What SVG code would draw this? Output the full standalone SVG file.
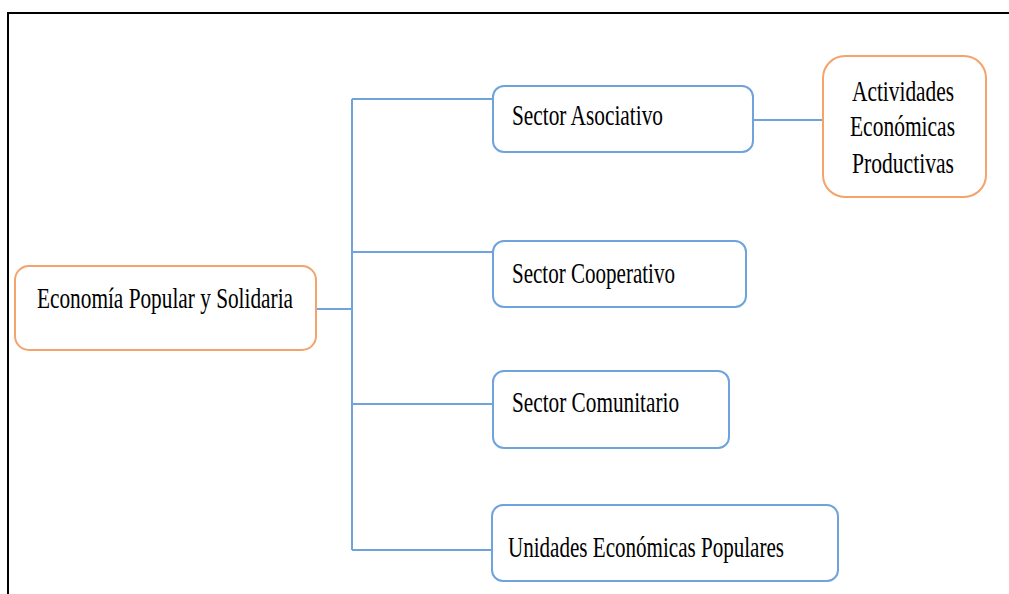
<svg xmlns="http://www.w3.org/2000/svg" width="1009" height="594" viewBox="0 0 1009 594">
<style>
.frame{stroke:#000;stroke-width:2;fill:none}
.blue{fill:#fff;stroke:#6FA3DC;stroke-width:2}
.orange{fill:#fff;stroke:#F4A36B;stroke-width:2}
.conn{stroke:#6FA3DC;stroke-width:2;fill:none}
.t{font-family:"Liberation Serif","Times New Roman",serif;font-size:30px;fill:#000}
</style>
<rect width="1009" height="594" fill="#fff"/>
<path class="frame" d="M8 594 V13 H1009"/>
<g id="connectors">
<path class="conn" d="M316 309 H352"/>
<path class="conn" d="M352 99 V550"/>
<path class="conn" d="M352 99 H493"/>
<path class="conn" d="M352 252 H493"/>
<path class="conn" d="M352 404 H493"/>
<path class="conn" d="M352 550 H492"/>
<path class="conn" d="M753 120 H823"/>
</g>
<g id="economia">
<rect class="orange" x="15" y="266" width="301" height="84" rx="14"/>
<text class="t" x="37" y="308" textLength="256" lengthAdjust="spacingAndGlyphs">Economía Popular y Solidaria</text>
</g>
<g id="asociativo">
<rect class="blue" x="493" y="86" width="260" height="66" rx="11"/>
<text class="t" x="512" y="125" textLength="151" lengthAdjust="spacingAndGlyphs">Sector Asociativo</text>
</g>
<g id="cooperativo">
<rect class="blue" x="493" y="241" width="253" height="66" rx="11"/>
<text class="t" x="512" y="283" textLength="163" lengthAdjust="spacingAndGlyphs">Sector Cooperativo</text>
</g>
<g id="comunitario">
<rect class="blue" x="493" y="371" width="236" height="77" rx="11"/>
<text class="t" x="512" y="412" textLength="167" lengthAdjust="spacingAndGlyphs">Sector Comunitario</text>
</g>
<g id="unidades">
<rect class="blue" x="492" y="505" width="346" height="76" rx="11"/>
<text class="t" x="508" y="557" textLength="276" lengthAdjust="spacingAndGlyphs">Unidades Económicas Populares</text>
</g>
<g id="actividades">
<rect class="orange" x="823" y="56" width="163" height="141" rx="22"/>
<text class="t" x="852" y="101" textLength="102" lengthAdjust="spacingAndGlyphs">Actividades</text>
<text class="t" x="850" y="136" textLength="105" lengthAdjust="spacingAndGlyphs">Económicas</text>
<text class="t" x="852" y="173" textLength="102" lengthAdjust="spacingAndGlyphs">Productivas</text>
</g>
</svg>
